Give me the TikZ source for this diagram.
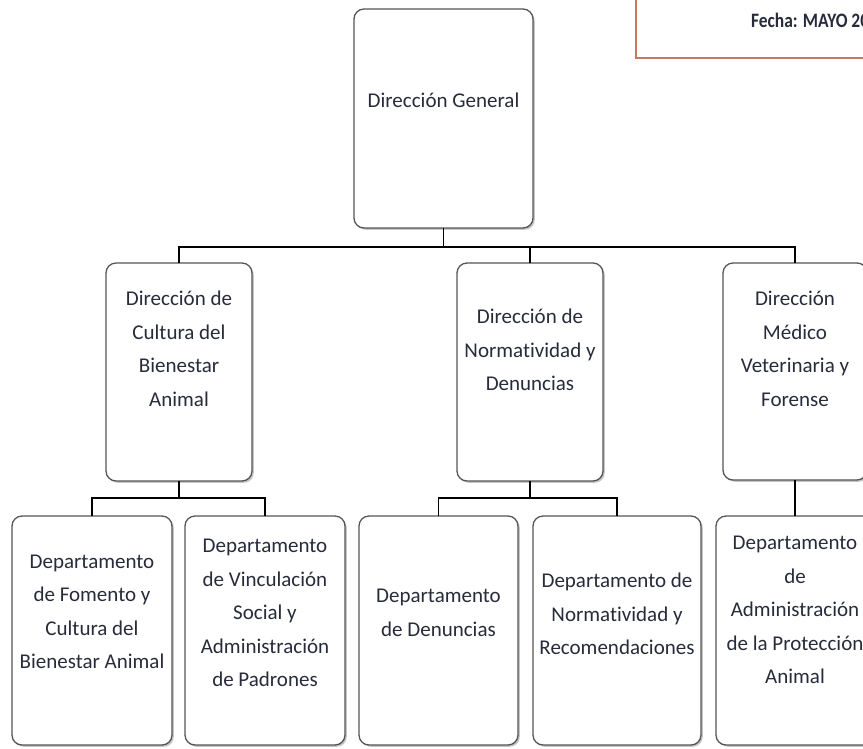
\documentclass[tikz,border=0pt]{standalone}
\usepackage{fontspec}
\setmainfont{Carlito}[Ligatures=NoCommon]
\usetikzlibrary{shadows}
\definecolor{boxline}{RGB}{85,85,85}
\definecolor{txt}{RGB}{40,44,58}
\definecolor{frameor}{RGB}{200,120,95}
\tikzset{
  orgbox/.style={draw=boxline, line width=1.3pt, rounded corners=10pt, fill=white,
    inner sep=0pt, outer sep=0pt,
    drop shadow={shadow xshift=1.8pt, shadow yshift=-1.8pt, fill=gray, opacity=0.45}},
  orgtext/.style={align=center, text=txt, inner sep=0pt, font=\fontsize{21}{33.5}\selectfont},
  link/.style={draw=black, line width=1.4pt}
}
\begin{document}
\begin{tikzpicture}[x=1pt,y=-1pt]
\useasboundingbox (0,0) rectangle (863,748);
\fill[white] (0,0) rectangle (863,748);
% top-right frame
\draw[frameor, line width=2pt] (636,-6) -- (636,58) -- (880,58);
\node[anchor=base west, inner sep=0pt, text=txt, xscale=0.85, font=\fontsize{20.5}{22}\selectfont\bfseries] (fecha) at (751,27) {Fecha: MAYO 20};
% boxes
\node[orgbox, minimum width=179pt, minimum height=219pt] (dg) at (443.5,118.5) {};
\node[orgbox, minimum width=146pt, minimum height=218pt] (d1) at (179,372) {};
\node[orgbox, minimum width=146pt, minimum height=218pt] (d2) at (530,372) {};
\node[orgbox, minimum width=144pt, minimum height=217pt] (d3) at (795,371.5) {};
\node[orgbox, minimum width=160pt, minimum height=229pt] (b1) at (92,630.5) {};
\node[orgbox, minimum width=160pt, minimum height=229pt] (b2) at (265,630.5) {};
\node[orgbox, minimum width=159pt, minimum height=229pt] (b3) at (438.5,630.5) {};
\node[orgbox, minimum width=168pt, minimum height=229pt] (b4) at (617,630.5) {};
\node[orgbox, minimum width=158pt, minimum height=229pt] (b5) at (795,630.5) {};
% texts
\node[orgtext] (tdg) at (443.5,100) {Dirección General};
\node[orgtext] (td1) at (179,349) {Dirección de\\Cultura del\\Bienestar\\Animal};
\node[orgtext] (td2) at (530,350) {Dirección de\\Normatividad y\\Denuncias};
\node[orgtext] (td3) at (795,349) {Dirección\\Médico\\Veterinaria y\\Forense};
\node[orgtext] (tb1) at (92,612) {Departamento\\de Fomento y\\Cultura del\\Bienestar Animal};
\node[orgtext] (tb2) at (265,613) {Departamento\\de Vinculación\\Social y\\Administración\\de Padrones};
\node[orgtext] (tb3) at (438.5,613) {Departamento\\de Denuncias};
\node[orgtext] (tb4) at (617,614) {Departamento de\\Normatividad y\\Recomendaciones};
\node[orgtext] (tb5) at (795,610) {Departamento\\de\\Administración\\de la Protección\\Animal};
% connectors
\draw[link] (dg.south) -- ++(0,19) coordinate (busA);
\draw[link] (d1.north) |- (busA) -| (d3.north);
\draw[link] (d2.north) |- (busA);
\draw[link] (d1.south) -- ++(0,17) coordinate (busB);
\draw[link] (b1.north) |- (busB) -| (b2.north);
\draw[link] (d2.south) -- ++(0,17) coordinate (busC);
\draw[link] (b3.north) |- (busC) -| (b4.north);
\draw[link] (d3.south) -- (b5.north);
\end{tikzpicture}
\end{document}
